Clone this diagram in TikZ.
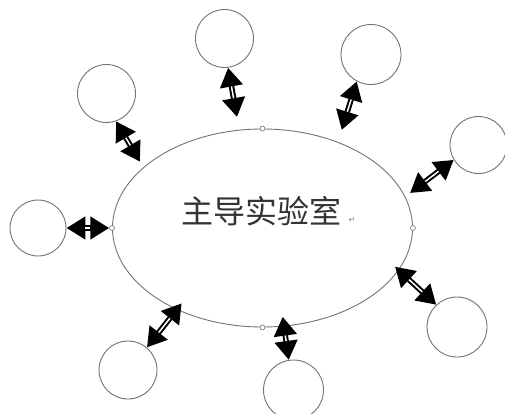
\documentclass[tikz,border=0pt]{standalone}
\usepackage{fontspec}
\newfontfamily\cjk{Noto Sans CJK SC}
\newfontfamily\dejavu{DejaVu Sans}
\usetikzlibrary{shapes.geometric,arrows.meta}
\begin{document}
\begin{tikzpicture}[x=1pt,y=-1pt,
  sat/.style={circle, draw=black!55, line width=0.9pt, minimum size=58pt, inner sep=0pt},
  hub/.style={ellipse, draw=black!55, line width=0.9pt, minimum width=300pt, minimum height=198pt, inner sep=0pt},
  handle/.style={circle, draw=black!55, fill=white, line width=0.6pt, minimum size=5pt, inner sep=0pt},
  biarrow/.style={line width=5.5pt, {Triangle[length=19pt 0 0,width=22pt 0 0]}-{Triangle[length=19pt 0 0,width=22pt 0 0]}},
  stripe/.style={white, line width=1.5pt, shorten <=19pt, shorten >=19pt}]
\useasboundingbox (0,0) rectangle (505,414);
\fill[white] (0,0) rectangle (505,414);
% central ellipse
\node[hub] (main) at (262.5,228) {};
\node (lbl) at (261,211) {\fontsize{32}{32}\selectfont\cjk\color{black!80}主导实验室};
\node (pm) at (352,220) {\fontsize{8}{8}\selectfont\dejavu\color{gray}↵};
\node[handle] (hN) at (main.north) {};
\node[handle] (hS) at (main.south) {};
\node[handle] (hW) at (main.west) {};
\node[handle] (hE) at (main.east) {};
% satellite circles
\node[sat] (c1) at (224.5,38.5) {};
\node[sat, minimum size=60pt] (c2) at (371,54.5) {};
\node[sat] (c3) at (106.5,93.5) {};
\node[sat, minimum size=57pt] (c4) at (478.5,145) {};
\node[sat, minimum size=56pt] (c5) at (38,228) {};
\node[sat, minimum size=60pt] (c6) at (457,327) {};
\node[sat] (c7) at (128,370) {};
\node[sat, minimum size=60pt] (c8) at (293.5,390) {};
% arrow ends near the ellipse
\coordinate (e1) at (237,117);
\coordinate (e2) at (341.7,130);
\coordinate (e3) at (140,161.7);
\coordinate (e4) at (410,193);
\coordinate (e6) at (395,266.7);
\coordinate (e7) at (181.7,303.3);
\coordinate (e8) at (282.7,316.7);
% arrows
\foreach \s/\e in {c1.277/e1, c2.242/e2, c3.289/e3, c4.211/e4, c5.east/hW, c6.133/e6, c7.50/e7, c8.99/e8}{
  \draw[biarrow] (\s) -- (\e);
  \draw[stripe] (\s) -- (\e);
}
\end{tikzpicture}
\end{document}
